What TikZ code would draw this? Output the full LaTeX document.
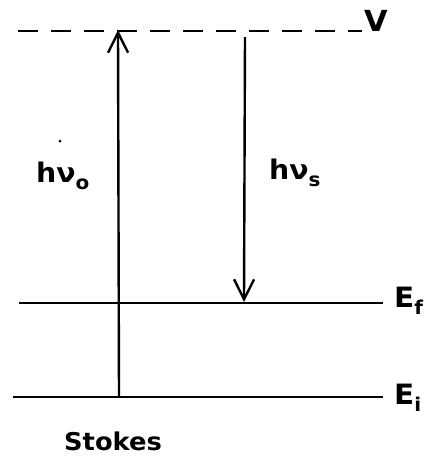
\documentclass[tikz,border=0pt]{standalone}
\usepackage{fontspec}
\setmainfont{DejaVu Sans}[FakeStretch=1.05]
\usetikzlibrary{arrows.meta}
\begin{document}
\begin{tikzpicture}[x=1pt,y=-1pt,
  level/.style={line width=2.6pt},
  trans/.style={line width=2.4pt,-{Straight Barb[length=20pt,width=20pt,line width=2.4pt]}},
  lbl/.style={font=\bfseries\fontsize{24.5}{28}\selectfont,inner sep=0pt}]
\useasboundingbox (0,0) rectangle (435,459);
\coordinate (v1) at (18,31);
\coordinate (v2) at (362,31);
\coordinate (f1) at (19,303);
\coordinate (f2) at (383,303);
\coordinate (i1) at (13,397);
\coordinate (i2) at (383,397);
\coordinate (upb) at (119,397);
\coordinate (upt) at (118,30);
\coordinate (dnt) at (245,37);
\coordinate (dnb) at (244,302);
\draw[level,dash pattern=on 20pt off 13pt] (v1) -- (v2);
\draw[level] (f1) -- (f2);
\draw[level] (i1) -- (i2);
\draw[trans] (upb) -- (upt);
\draw[trans] (dnt) -- (dnb);
\fill (60,141) circle (1.5pt);
\node[lbl,font=\bfseries\fontsize{29}{32}\selectfont] (V) at (376,21) {V};
\node[lbl,anchor=west,font=\bfseries\fontsize{28}{32}\selectfont] (Ef) at (394,301) {E\raisebox{-7pt}{\fontsize{19}{20}\selectfont f}};
\node[lbl,anchor=west,font=\bfseries\fontsize{28}{32}\selectfont] (Ei) at (394,398) {E\raisebox{-7pt}{\fontsize{19}{20}\selectfont i}};
\node[lbl,anchor=base west,font=\bfseries\fontsize{27}{30}\selectfont] (h0) at (36,182) {hν\raisebox{-7pt}{\fontsize{19}{22}\selectfont o}};
\node[lbl,anchor=base west,font=\bfseries\fontsize{27}{30}\selectfont] (hs) at (269,179) {hν\raisebox{-7pt}{\fontsize{19}{22}\selectfont s}};
\node[lbl,anchor=base west] (st) at (64,450) {Stokes};
\end{tikzpicture}
\end{document}
